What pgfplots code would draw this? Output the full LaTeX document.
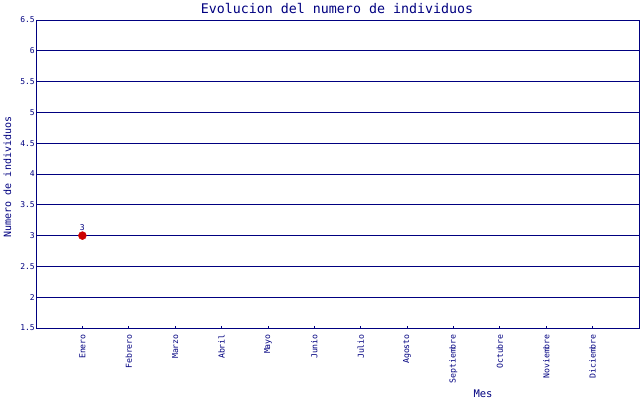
\documentclass[border=0pt]{standalone}
\usepackage{fontspec}
\setmainfont{DejaVu Sans Mono}
\usepackage{pgfplots}
\pgfplotsset{compat=1.18}
\definecolor{navy}{HTML}{000080}
\definecolor{ptred}{HTML}{CC0000}

\begin{document}
\begin{tikzpicture}[x=1pt,y=1pt]
\useasboundingbox (0,0) rectangle (640,400);
\begin{axis}[
    at={(36pt,72pt)}, anchor=south west,
    scale only axis, width=603pt, height=308pt,
    xmin=0, xmax=13, ymin=1.5, ymax=6.5,
    xtick={1,2,3,4,5,6,7,8,9,10,11,12},
    xticklabels={Enero,Febrero,Marzo,Abril,Mayo,Junio,Julio,Agosto,Septiembre,Octubre,Noviembre,Diciembre},
    ytick={1.5,2,2.5,3,3.5,4,4.5,5,5.5,6,6.5},
    /pgf/number format/assume math mode=true,
    ymajorgrids,
    major grid style={navy, line width=0.8pt},
    axis line style={navy, line width=0.8pt},
    xtick pos=bottom, ytick pos=left,
    xtick style={navy, line width=0.8pt},
    ytick style={draw=none},
    major tick length=2pt, tick align=inside,
    xticklabel style={font=\fontsize{8.2}{9}\selectfont, text=navy, rotate=90, anchor=east, inner sep=0pt},
    xticklabel shift=6pt,
    yticklabel style={font=\fontsize{8}{9}\selectfont, text=navy, anchor=east, inner sep=0pt},
    yticklabel shift=1pt,
    clip=false,
]
\addplot[only marks, mark=*, mark size=4pt, color=ptred,
    nodes near coords, point meta=explicit symbolic,
    nodes near coords style={font=\fontsize{8}{9}\selectfont, text=navy, anchor=south, inner sep=0pt, yshift=4.5pt}]
    coordinates {(1,3) [3]};
\end{axis}
\node[anchor=base, inner sep=0pt, text=navy, font=\fontsize{13.3}{15}\selectfont] at (337,386) {Evolucion del numero de individuos};
\node[anchor=base, inner sep=0pt, text=navy, font=\fontsize{10.5}{12}\selectfont] at (483,3) {Mes};
\node[anchor=base, inner sep=0pt, text=navy, rotate=90, font=\fontsize{10}{12}\selectfont] at (11,223) {Numero de individuos};
\end{tikzpicture}
\end{document}
